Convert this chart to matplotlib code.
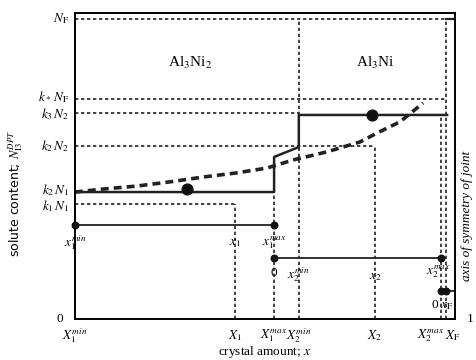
import matplotlib

matplotlib.use("Agg")

import matplotlib.pyplot as plt

plt.rcParams["font.family"] = ["Liberation Serif", "DejaVu Serif"]
plt.rcParams["mathtext.fontset"] = "stix"

# solute levels on the left axis (N_F = 1)
level_values = [1.0, 0.733, 0.687, 0.577, 0.423, 0.383]
level_labels = [r"$N_{\rm F}$", r"$k_*\,N_{\rm F}$", r"$k_3\,N_2$",
                r"$k_2\,N_2$", r"$k_2\,N_1$", r"$k_1\,N_1$"]
level_ends = [0.976, 0.976, 0.589, 0.789, None, 0.421]

# crystal amount positions on the bottom axis
x_marks = [0.0, 0.421, 0.524, 0.589, 0.789, 0.963, 0.976]
x_mark_labels = [r"$X_1^{min}$", r"$X_1$", r"$X_1^{max}$", r"$X_2^{min}$",
                 r"$X_2$", r"$X_2^{max}$", r"$X_{\rm F}$"]
x_mark_tops = [None, 0.383, 0.423, 1.0, 0.577, 0.68, 1.0]

# stepwise solute profile (solid)
step_x = [0.0, 0.524, 0.524, 0.589, 0.589, 0.979]
step_y = [0.423, 0.423, 0.54, 0.573, 0.68, 0.68]
step_dots_x = [0.295, 0.782]
step_dots_y = [0.433, 0.68]

# continuous solute profile (thick dashed)
curve_x = [0.0, 0.074, 0.163, 0.25, 0.337, 0.426, 0.505, 0.574, 0.663,
           0.75, 0.795, 0.855, 0.916]
curve_y = [0.423, 0.433, 0.443, 0.457, 0.473, 0.487, 0.503, 0.53, 0.557,
           0.59, 0.62, 0.657, 0.72]

# local crystal axes: (y level, start, end)
local_axes = [(0.313, 0.0, 0.524), (0.203, 0.524, 0.963), (0.093, 0.963, 1.0)]

fig = plt.figure(figsize=(4.77, 3.6), dpi=100)
ax = fig.add_axes([0.157, 0.114, 0.797, 0.85])
ax.set_xlim(0, 1)
ax.set_ylim(0, 1.02)
for spine in ax.spines.values():
    spine.set_linewidth(1.4)
ax.set_xticks([])
ax.set_yticks([])

dot_style = dict(linestyle=(0, (2, 1.6)), color="#222222", linewidth=1.2)

for value, end in zip(level_values, level_ends):
    if end is not None:
        ax.plot([0, end], [value, value], **dot_style)
ax.plot([0.976, 1.0], [1.0, 1.0], color="#222222", linewidth=1.6)

for xm, top in zip(x_marks, x_mark_tops):
    if top is not None:
        ax.plot([xm, xm], [0, top], **dot_style)

ax.plot(step_x, step_y, color="#222222", linewidth=1.8)
ax.scatter(step_dots_x, step_dots_y, s=60, color="#111111", zorder=5)
ax.plot(curve_x, curve_y, color="#222222", linewidth=2.6,
        linestyle=(0, (2.2, 1.4)))

for y, x0, x1 in local_axes:
    ax.plot([x0, x1], [y, y], color="#222222", linewidth=1.3)
    ax.scatter([x0], [y], s=22, color="#111111", zorder=5, clip_on=False)
    if x1 < 1.0:
        ax.scatter([x1], [y], s=22, color="#111111", zorder=5)
ax.scatter([0.976], [0.093], s=22, color="#111111", zorder=5)

fs = 9.5
label_nudge = [0, 0.007, -0.004, 0, 0.006, -0.006]
for value, label, nudge in zip(level_values, level_labels, label_nudge):
    ax.text(-0.015, value + nudge, label, ha="right", va="center", fontsize=fs)
ax.text(-0.03, 0.0, "0", ha="right", va="center", fontsize=fs)
ax.text(1.03, 0.0, "1", ha="left", va="center", fontsize=fs)

for xm, label in zip(x_marks[:-2], x_mark_labels[:-2]):
    ax.text(xm, -0.055, label, ha="center", va="center", fontsize=fs)
ax.text(x_marks[-2] + 0.01, -0.055, x_mark_labels[-2], ha="right", va="center", fontsize=fs)
ax.text(x_marks[-1] - 0.002, -0.055, x_mark_labels[-1], ha="left", va="center", fontsize=fs)
ax.text(0.5, -0.11, r"crystal amount; $x$", ha="center", va="center", fontsize=fs)

ax.text(0.0, 0.253, r"$x_1^{min}$", ha="center", va="center", fontsize=fs)
ax.text(0.421, 0.253, r"$x_1$", ha="center", va="center", fontsize=fs)
ax.text(0.524, 0.253, r"$x_1^{max}$", ha="center", va="center", fontsize=fs)
ax.text(0.524, 0.153, "0", ha="center", va="center", fontsize=fs)
ax.text(0.589, 0.147, r"$x_2^{min}$", ha="center", va="center", fontsize=fs)
ax.text(0.789, 0.14, r"$x_2$", ha="center", va="center", fontsize=fs)
ax.text(0.955, 0.157, r"$x_2^{max}$", ha="center", va="center", fontsize=fs)
ax.text(0.968, 0.047, r"0 $x_{\rm F}$", ha="center", va="center", fontsize=fs)

ax.text(0.302, 0.853, r"Al$_3$Ni$_2$", ha="center", va="center", fontsize=11)
ax.text(0.789, 0.853, r"Al$_3$Ni", ha="center", va="center", fontsize=11)

ax.text(1.032, 0.345, "axis of symmetry of joint", rotation=90, ha="center",
        va="center", fontsize=fs, style="italic")
ax.text(-0.157, 0.42, r"solute content; $N_{\rm I3}^{DPT}$", rotation=90,
        ha="center", va="center", fontsize=9, family="DejaVu Sans")

fig.savefig("out.png", dpi=100)
